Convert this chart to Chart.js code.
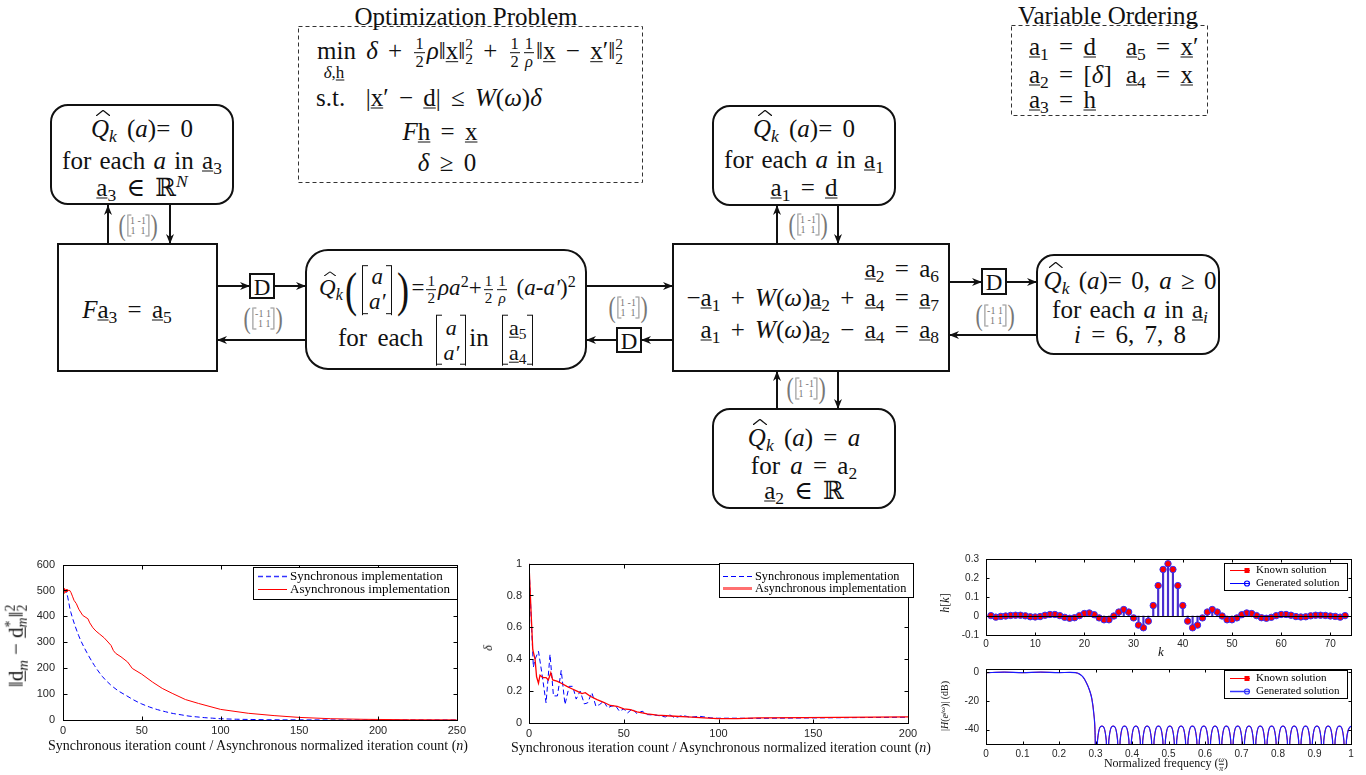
<!DOCTYPE html>
<html><head><meta charset="utf-8">
<script src="https://cdn.jsdelivr.net/npm/chart.js@4.4.1/dist/chart.umd.min.js"></script>
<style>
html,body{margin:0;padding:0;background:#fff;}
#page{position:relative;width:1366px;height:775px;overflow:hidden;background:#fff;}
#dg{position:absolute;left:0;top:0;}
canvas{position:absolute;}
.m{position:absolute;font-family:'Liberation Serif','DejaVu Serif',serif;font-size:25px;line-height:1;white-space:nowrap;color:#111;word-spacing:2px;}
.w{word-spacing:4px;}
.c{transform:translate(-50%,-50%);}
.l{transform:translate(0,-50%);}
.r{transform:translate(-100%,-50%);}
.rot{transform:translate(-50%,-50%) rotate(-90deg);}
.m i{font-style:italic;}
.u{text-decoration:underline;text-decoration-thickness:1.2px;text-underline-offset:2px;}
.m sub{font-size:0.7em;vertical-align:-0.3em;line-height:0;}
.m sup{font-size:0.7em;vertical-align:0.5em;line-height:0;}
.hat{position:relative;font-style:italic;}
.hat::before{content:'';position:absolute;left:0.2em;top:-0.2em;width:0.55em;height:0.22em;
 background:url("data:image/svg+xml;utf8,<svg xmlns='http://www.w3.org/2000/svg' viewBox='0 0 20 6' preserveAspectRatio='none'><path d='M0 6 L10 0.8 L20 6' fill='none' stroke='%23111' stroke-width='1.3'/></svg>") no-repeat;background-size:100% 100%;}
.fr{display:inline-block;vertical-align:middle;text-align:center;font-size:0.66em;line-height:1.05;margin:0 2px;}
.fr>span{display:block;padding:0 1px;}
.fr>span:first-child{border-bottom:1px solid #111;}
.ss{display:inline-block;vertical-align:-0.35em;font-size:0.62em;line-height:0.95;}
.ss>span{display:block;}
.vec{display:inline-flex;flex-direction:column;align-items:center;vertical-align:middle;line-height:1.08;padding:0 6px;margin:0 3px;
 border-left:1.3px solid #111;border-right:1.3px solid #111;
 background:linear-gradient(#111,#111) left top/5px 1.3px no-repeat,linear-gradient(#111,#111) right top/5px 1.3px no-repeat,linear-gradient(#111,#111) left bottom/5px 1.3px no-repeat,linear-gradient(#111,#111) right bottom/5px 1.3px no-repeat;}
.bp{display:inline-block;vertical-align:middle;font-size:2.1em;line-height:1;transform:scaleX(0.75);}
.mx{position:absolute;transform:translate(-50%,-50%);display:flex;align-items:center;color:#777;font-family:'Liberation Serif',serif;}
.mx .mp{font-size:29px;line-height:1;transform:scaleX(0.75);}
.mx .mb{display:inline-flex;flex-direction:column;font-size:10px;line-height:10px;padding:1px 2px;
 border-left:1px solid #888;border-right:1px solid #888;
 background:linear-gradient(#888,#888) left top/3px 1px no-repeat,linear-gradient(#888,#888) right top/3px 1px no-repeat,linear-gradient(#888,#888) left bottom/3px 1px no-repeat,linear-gradient(#888,#888) right bottom/3px 1px no-repeat;}
.mx .mb span{white-space:pre;text-align:center;}
.dl{position:absolute;font-family:'Liberation Serif',serif;font-size:23px;line-height:1;transform:translate(-50%,-50%);color:#111;}
.at{position:absolute;font-family:'Liberation Serif','DejaVu Serif',serif;white-space:nowrap;color:#111;line-height:1;}
.at i{font-style:italic;}
.at sub{font-size:0.7em;vertical-align:-0.3em;line-height:0;}
.at sup{font-size:0.7em;vertical-align:0.5em;line-height:0;}
</style></head>
<body><div id="page">
<svg id="dg" width="1366" height="775">
<defs><marker id="ah" viewBox="0 0 10 8" refX="10" refY="4" markerWidth="10" markerHeight="8" orient="auto" markerUnits="userSpaceOnUse"><path d="M0,0 L10,4 L0,8 L3,4 Z" fill="#111"/></marker></defs>
<g fill="none" stroke="#333" stroke-width="1" stroke-dasharray="4,3">
<rect x="298.5" y="26.5" width="344" height="156"/>
<rect x="1011.5" y="25.5" width="196" height="90"/>
</g>
<g fill="none" stroke="#111" stroke-width="2">
<rect x="51" y="105" width="182" height="99" rx="17"/>
<rect x="58" y="244" width="159" height="127"/>
<rect x="306" y="250" width="280" height="119" rx="22"/>
<rect x="713" y="106" width="182" height="99" rx="17"/>
<rect x="673" y="244" width="276" height="127"/>
<rect x="713" y="409" width="182" height="99" rx="17"/>
<rect x="1037" y="255" width="182" height="99" rx="17"/>
<rect x="250" y="274" width="24" height="24"/>
<rect x="617" y="328" width="24" height="24"/>
<rect x="982" y="269" width="24" height="25"/>
</g>
<g stroke="#111" stroke-width="2" marker-end="url(#ah)">
<line x1="108" y1="244" x2="108" y2="205"/>
<line x1="170" y1="205" x2="170" y2="244"/>
<line x1="217" y1="286" x2="250" y2="286"/>
<line x1="274" y1="286" x2="306" y2="286"/>
<line x1="306" y1="340" x2="217" y2="340"/>
<line x1="586" y1="286" x2="673" y2="286"/>
<line x1="673" y1="340" x2="641" y2="340"/>
<line x1="617" y1="340" x2="586" y2="340"/>
<line x1="777" y1="244" x2="777" y2="205"/>
<line x1="838" y1="205" x2="838" y2="244"/>
<line x1="777" y1="409" x2="777" y2="371"/>
<line x1="838" y1="371" x2="838" y2="409"/>
<line x1="949" y1="282" x2="982" y2="282"/>
<line x1="1006" y1="282" x2="1037" y2="282"/>
<line x1="1037" y1="335" x2="949" y2="335"/>
</g>
</svg>

<!-- Optimization problem -->
<div class="m c" style="left:466px;top:16px;word-spacing:0;">Optimization Problem</div>
<div class="m l w" style="left:317px;top:53px;">min <i>δ</i> + <span class="fr"><span>1</span><span>2</span></span><i>ρ</i>‖<span class="u">x</span>‖<span class="ss"><span>2</span><span>2</span></span> + <span class="fr"><span>1</span><span>2</span></span><span class="fr"><span>1</span><span><i>ρ</i></span></span>‖<span class="u">x</span> − <span class="u">x</span>′‖<span class="ss"><span>2</span><span>2</span></span></div>
<div class="m c" style="left:334px;top:72px;font-size:17px;word-spacing:0;"><i>δ</i>,<span class="u">h</span></div>
<div class="m l w" style="left:316px;top:97px;">s.t.&nbsp; |<span class="u">x</span>′ − <span class="u">d</span>| ≤ <i>W</i>(<i>ω</i>)<i>δ</i></div>
<div class="m c w" style="left:440px;top:131px;"><i>F</i><span class="u">h</span> = <span class="u">x</span></div>
<div class="m c w" style="left:447px;top:162px;"><i>δ</i> ≥ 0</div>

<!-- Variable ordering -->
<div class="m c" style="left:1108px;top:15px;word-spacing:0;">Variable Ordering</div>
<div class="m l w" style="left:1029px;top:46px;"><span class="u">a</span><sub>1</sub> = <span class="u">d</span></div>
<div class="m l w" style="left:1126px;top:46px;"><span class="u">a</span><sub>5</sub> = <span class="u">x</span>′</div>
<div class="m l w" style="left:1029px;top:74px;"><span class="u">a</span><sub>2</sub> = [<i>δ</i>]</div>
<div class="m l w" style="left:1126px;top:74px;"><span class="u">a</span><sub>4</sub> = <span class="u">x</span></div>
<div class="m l w" style="left:1029px;top:99px;"><span class="u">a</span><sub>3</sub> = <span class="u">h</span></div>

<!-- top-left box -->
<div class="m c w" style="left:142px;top:128px;"><span class="hat">Q</span><sub><i>k</i></sub> (<i>a</i>)= 0</div>
<div class="m c" style="left:142px;top:160px;">for each <i>a</i> in <span class="u">a</span><sub>3</sub></div>
<div class="m c w" style="left:142px;top:187px;"><span class="u">a</span><sub>3</sub> ∈ ℝ<sup><i>N</i></sup></div>
<!-- F box -->
<div class="m c w" style="left:127px;top:309px;"><i>F</i><span class="u">a</span><sub>3</sub> = <span class="u">a</span><sub>5</sub></div>
<!-- middle box -->
<div class="m l" style="left:319px;top:290px;font-size:23px;"><span class="hat">Q</span><sub><i>k</i></sub><span class="bp">(</span><span class="vec"><i>a</i><i>a′</i></span><span class="bp">)</span>=<span class="fr"><span>1</span><span>2</span></span><i>ρa</i><sup>2</sup>+<span class="fr"><span>1</span><span>2</span></span><span class="fr"><span>1</span><span><i>ρ</i></span></span> (<i>a</i>-<i>a′</i>)<sup>2</sup></div>
<div class="m l w" style="left:338px;top:340px;">for each <span class="vec" style="font-size:22px;line-height:1.15;"><i>a</i><i>a′</i></span>in <span class="vec" style="font-size:22px;line-height:1.15;"><span><span class="u">a</span><sub>5</sub></span><span><span class="u">a</span><sub>4</sub></span></span></div>
<!-- centre box -->
<div class="m r w" style="left:939px;top:268px;"><span class="u">a</span><sub>2</sub> = a<sub>6</sub></div>
<div class="m r w" style="left:939px;top:297px;">−<span class="u">a</span><sub>1</sub> + <i>W</i>(<i>ω</i>)<span class="u">a</span><sub>2</sub> + <span class="u">a</span><sub>4</sub> = <span class="u">a</span><sub>7</sub></div>
<div class="m r w" style="left:939px;top:329px;"><span class="u">a</span><sub>1</sub> + <i>W</i>(<i>ω</i>)<span class="u">a</span><sub>2</sub> − <span class="u">a</span><sub>4</sub> = <span class="u">a</span><sub>8</sub></div>
<!-- top centre box -->
<div class="m c w" style="left:804px;top:128px;"><span class="hat">Q</span><sub><i>k</i></sub> (<i>a</i>)= 0</div>
<div class="m c" style="left:804px;top:159px;">for each <i>a</i> in <span class="u">a</span><sub>1</sub></div>
<div class="m c w" style="left:804px;top:187px;"><span class="u">a</span><sub>1</sub> = <span class="u">d</span></div>
<!-- bottom box -->
<div class="m c w" style="left:804px;top:437px;"><span class="hat">Q</span><sub><i>k</i></sub> (<i>a</i>) = <i>a</i></div>
<div class="m c w" style="left:804px;top:465px;">for <i>a</i> = a<sub>2</sub></div>
<div class="m c w" style="left:804px;top:490px;"><span class="u">a</span><sub>2</sub> ∈ ℝ</div>
<!-- right box -->
<div class="m c" style="left:1130px;top:280px;word-spacing:3px;"><span class="hat">Q</span><sub><i>k</i></sub> (<i>a</i>)= 0, <i>a</i> ≥ 0</div>
<div class="m c" style="left:1130px;top:309px;">for each <i>a</i> in <span class="u">a</span><sub><i>i</i></sub></div>
<div class="m c w" style="left:1130px;top:334px;"><i>i</i> = 6, 7, 8</div>

<!-- D blocks -->
<div class="dl" style="left:262px;top:287px;">D</div>
<div class="dl" style="left:629px;top:341px;">D</div>
<div class="dl" style="left:994px;top:282px;">D</div>

<!-- matrix labels -->
<div class="mx" style="left:138px;top:225px;"><span class="mp">(</span><span class="mb"><span>1 -1</span><span>1  1</span></span><span class="mp">)</span></div>
<div class="mx" style="left:263px;top:318px;"><span class="mp">(</span><span class="mb"><span>-1 1</span><span> 1 1</span></span><span class="mp">)</span></div>
<div class="mx" style="left:628px;top:307px;"><span class="mp">(</span><span class="mb"><span>1 -1</span><span>1  1</span></span><span class="mp">)</span></div>
<div class="mx" style="left:808px;top:224px;"><span class="mp">(</span><span class="mb"><span>1 -1</span><span>1  1</span></span><span class="mp">)</span></div>
<div class="mx" style="left:806px;top:388px;"><span class="mp">(</span><span class="mb"><span>1 -1</span><span>1  1</span></span><span class="mp">)</span></div>
<div class="mx" style="left:995px;top:315px;"><span class="mp">(</span><span class="mb"><span>-1 1</span><span> 1 1</span></span><span class="mp">)</span></div>

<!-- charts -->
<canvas id="c1" width="470" height="225" style="left:0;top:550px;"></canvas>
<canvas id="c2" width="460" height="225" style="left:470px;top:550px;"></canvas>
<canvas id="c3" width="436" height="110" style="left:930px;top:545px;"></canvas>
<canvas id="c4" width="436" height="120" style="left:930px;top:655px;"></canvas>

<!-- axis titles -->
<div class="at c" style="left:258px;top:746px;font-size:14px;">Synchronous iteration count / Asynchronous normalized iteration count (<i>n</i>)</div>
<div class="at rot" style="left:17px;top:646px;font-size:21px;">‖<span class="u">d</span><sub><i>m</i></sub> − <span class="u">d</span><span style="display:inline-block;vertical-align:-0.3em;font-size:0.65em;line-height:0.9;"><span style="display:block">*</span><span style="display:block"><i>m</i></span></span>‖<span style="display:inline-block;vertical-align:-0.3em;font-size:0.65em;line-height:0.9;"><span style="display:block">2</span><span style="display:block">2</span></span></div>
<div class="at c" style="left:721px;top:748px;font-size:14px;">Synchronous iteration count / Asynchronous normalized iteration count (<i>n</i>)</div>
<div class="at rot" style="left:488px;top:648px;font-size:12px;"><i>δ</i></div>
<div class="at c" style="left:1161px;top:651px;font-size:13px;"><i>k</i></div>
<div class="at rot" style="left:945px;top:603px;font-size:12px;"><i>h</i>[<i>k</i>]</div>
<div class="at rot" style="left:945px;top:706px;font-size:10px;">|<i>H</i>(<i>e</i><sup><i>jω</i></sup>)| (dB)</div>
<div class="at c" style="left:1166px;top:764px;font-size:12px;">Normalized frequency (<span style="display:inline-block;vertical-align:middle;text-align:center;font-size:0.65em;line-height:1;"><span style="display:block;border-bottom:1px solid #111;"><i>ω</i></span><span style="display:block"><i>π</i></span></span>)</div>
</div>

<script>
// ---------------- DATA ----------------
// Chart 1: ||d_m - d*_m||^2 vs iteration
const c1SyncX  = [0,1.5,5,10,15,20,25,30,35,40,45,50,55,60,65,70,75,80,85,90,95,100,110,120,130,150,200,250];
const c1SyncY  = [500,500,415,325,262,210,168,137,113,95,77,62,50,40,32,25,20,15,12,9,7,5,3,2,1,0.5,0,0];
const c1AsyncX = [0,0.5,1,1.5,2,2.5,3,3.5,4,5,6,7,8.5,10,12.5,14,15.8,17,19,21,23,26,28,30.5,32,33.5,36.8,41,44,50,56.7,63,69.3,77.7,86,100,117.6,134,150,170,191,220,250];
const c1AsyncY = [500,488,508,492,505,495,503,498,502,493,478,462,449,428,404,398,391,375,356,343,333,318,305,288,268,257,244,224,199,177,147,122,103,79,64,41,26,17,10,5,2.6,1,0.5];
// Chart 2: delta vs iteration
const c2SyncX  = [0,1,2.3,3.2,5,6.7,9,11.1,12.9,15,17,19,21.2,23.1,24.9,27,29.2,30.9,33.2,35.3,37.3,39.4,41.5,43.3,45.6,47.7,50,52,54.4,57,59.7,62.4,67.7,72,74,77,81,85,90,96,99.5,110,120,150,200];
const c2SyncY  = [1,0.7,0.35,0.40,0.45,0.32,0.126,0.43,0.17,0.17,0.33,0.116,0.23,0.23,0.15,0.2,0.12,0.126,0.19,0.105,0.116,0.137,0.095,0.105,0.11,0.074,0.088,0.063,0.088,0.059,0.074,0.053,0.048,0.038,0.053,0.032,0.048,0.036,0.042,0.032,0.03,0.03,0.029,0.032,0.036];
const c2AsyncX = [0,1,2,3.2,4,5,5.8,6.7,7.6,9,10.2,11.5,12.5,14.7,17.3,20,22.6,25.3,27.9,29.7,32.3,35.9,39.4,42.9,46.5,50,53.5,57,62.4,67.7,74.7,83.6,92.4,99.5,110,120.7,145,200];
const c2AsyncY = [1,0.72,0.46,0.40,0.29,0.25,0.30,0.29,0.285,0.285,0.27,0.315,0.27,0.263,0.248,0.23,0.215,0.2,0.185,0.19,0.168,0.147,0.13,0.11,0.105,0.088,0.084,0.07,0.057,0.05,0.044,0.038,0.032,0.027,0.027,0.032,0.034,0.038];
// Chart 3: filter taps h[k], k = 1..73
const c3K = [1,2,3,4,5,6,7,8,9,10,11,12,13,14,15,16,17,18,19,20,21,22,23,24,25,26,27,28,29,30,31,32,33,34,35,36,37,38,39,40,41,42,43,44,45,46,47,48,49,50,51,52,53,54,55,56,57,58,59,60,61,62,63,64,65,66,67,68,69,70,71,72,73];
const c3H = [0.002,-0.006,-0.002,0,0.003,0.004,0.004,0.001,-0.004,-0.005,
  -0.003,0.004,0.008,0.008,0.002,-0.007,-0.012,-0.009,0.002,0.013,
  0.016,0.007,-0.01,-0.02,-0.02,0,0.021,0.034,0.021,-0.01,
  -0.048,-0.062,-0.027,0.055,0.16,0.245,0.275,
  0.245,0.16,0.055,-0.027,-0.062,-0.048,-0.01,
  0.021,0.034,0.021,0,-0.02,-0.02,-0.01,0.007,0.016,0.013,
  0.002,-0.009,-0.012,-0.007,0.002,0.008,0.008,0.004,-0.003,-0.005,
  -0.004,0.001,0.004,0.004,0.003,0,-0.002,-0.006,0.002];
// Chart 4: magnitude response [normalized frequency, dB]
const c4Resp = [
 [0,-0.2],[0.05,0.2],[0.1,-0.2],[0.15,0.2],[0.2,-0.1],[0.23,0],[0.245,-0.1],[0.25,-0.4],[0.255,-1],[0.26,-1.8],[0.265,-3],
 [0.27,-4.8],[0.275,-7.2],[0.28,-10],[0.285,-13.5],[0.29,-18.5],[0.295,-28],[0.299,-44],[0.302,-90],
 [0.3055,-47.5],[0.3175,-37.5],[0.3295,-47.5],[0.333,-90],
 [0.3365,-47.5],[0.3485,-37.5],[0.3605,-47.5],[0.364,-90],
 [0.3675,-47.5],[0.3795,-37.5],[0.3915,-47.5],[0.395,-90],
 [0.3985,-47.5],[0.4105,-37.5],[0.4225,-47.5],[0.426,-90],
 [0.4295,-47.5],[0.4415,-37.5],[0.4535,-47.5],[0.457,-90],
 [0.4605,-47.5],[0.4725,-37.5],[0.4845,-47.5],[0.488,-90],
 [0.4915,-47.5],[0.5035,-37.5],[0.5155,-47.5],[0.519,-90],
 [0.5225,-47.5],[0.5345,-37.5],[0.5465,-47.5],[0.550,-90],
 [0.5535,-47.5],[0.5655,-37.5],[0.5775,-47.5],[0.581,-90],
 [0.5845,-47.5],[0.5965,-37.5],[0.6085,-47.5],[0.612,-90],
 [0.6155,-47.5],[0.6275,-37.5],[0.6395,-47.5],[0.643,-90],
 [0.6465,-47.5],[0.6585,-37.5],[0.6705,-47.5],[0.674,-90],
 [0.6775,-47.5],[0.6895,-37.5],[0.7015,-47.5],[0.705,-90],
 [0.7085,-47.5],[0.7205,-37.5],[0.7325,-47.5],[0.736,-90],
 [0.7395,-47.5],[0.7515,-37.5],[0.7635,-47.5],[0.767,-90],
 [0.7705,-47.5],[0.7825,-37.5],[0.7945,-47.5],[0.798,-90],
 [0.8015,-47.5],[0.8135,-37.5],[0.8255,-47.5],[0.829,-90],
 [0.8325,-47.5],[0.8445,-37.5],[0.8565,-47.5],[0.860,-90],
 [0.8635,-47.5],[0.8755,-37.5],[0.8875,-47.5],[0.891,-90],
 [0.8945,-47.5],[0.9065,-37.5],[0.9185,-47.5],[0.922,-90],
 [0.9255,-47.5],[0.9375,-37.5],[0.9495,-47.5],[0.953,-90],
 [0.9565,-47.5],[0.9685,-37.5],[0.9805,-47.5],[0.984,-90],
 [0.9875,-47.5],[1.0,-37.5]
];
const seriesLabels = ['Synchronous implementation','Asynchronous implementation'];
const filterLabels = ['Known solution','Generated solution'];

// ---------------- HELPERS ----------------
const xy = (xs, ys) => xs.map((x, i) => ({x: x, y: ys[i]}));
const TICKC = '#262626';
const fmt = v => String(Math.round(v * 1000) / 1000);

const mbox = {
  id: 'mbox',
  afterDatasetsDraw(chart, args, o) {
    const {ctx, chartArea: a, scales: {x, y}} = chart;
    ctx.save();
    ctx.strokeStyle = '#000'; ctx.lineWidth = 1;
    if (o.zeroLine) {
      const py = Math.round(y.getPixelForValue(0)) + 0.5;
      ctx.beginPath(); ctx.moveTo(a.left, py); ctx.lineTo(a.right, py); ctx.stroke();
    }
    const L = Math.round(a.left) + 0.5, T = Math.round(a.top) + 0.5, R = Math.round(a.right) + 0.5, B = Math.round(a.bottom) + 0.5;
    ctx.strokeRect(L, T, R - L, B - T);
    const tl = o.tick || 4;
    ctx.beginPath();
    x.ticks.forEach(t => { const p = Math.round(x.getPixelForValue(t.value)) + 0.5; ctx.moveTo(p, B); ctx.lineTo(p, B - tl); ctx.moveTo(p, T); ctx.lineTo(p, T + tl); });
    y.ticks.forEach(t => { const p = Math.round(y.getPixelForValue(t.value)) + 0.5; ctx.moveTo(L, p); ctx.lineTo(L + tl, p); ctx.moveTo(R, p); ctx.lineTo(R - tl, p); });
    ctx.stroke();
    ctx.restore();
  },
  afterDraw(chart, args, o) {
    const lg = o.legend; if (!lg) return;
    const ctx = chart.ctx;
    const [bx, by, bw, bh] = lg.box;
    ctx.save();
    ctx.fillStyle = '#fff'; ctx.fillRect(bx, by, bw, bh);
    ctx.strokeStyle = '#000'; ctx.lineWidth = 1; ctx.strokeRect(bx + 0.5, by + 0.5, bw, bh);
    const items = chart.data.datasets.filter(d => !d.noLegend);
    items.forEach((d, i) => {
      const yy = lg.rows[i] + 0.5;
      ctx.strokeStyle = d.legendColor || d.borderColor;
      ctx.lineWidth = d.legendWidth || d.borderWidth || 1;
      ctx.setLineDash(d.borderDash || []);
      ctx.beginPath(); ctx.moveTo(lg.line[0], yy); ctx.lineTo(lg.line[1], yy); ctx.stroke();
      ctx.setLineDash([]);
      if (d.legendMarker === 'square') {
        ctx.fillStyle = d.legendColor; ctx.fillRect(lg.marker - 2.5, yy - 2.5, 5, 5);
      } else if (d.legendMarker === 'circle') {
        ctx.lineWidth = 1.2; ctx.beginPath(); ctx.arc(lg.marker, yy, 2.5, 0, Math.PI * 2); ctx.stroke();
      }
      ctx.fillStyle = '#000'; ctx.font = lg.font; ctx.textBaseline = 'middle'; ctx.textAlign = 'left';
      ctx.fillText(d.label, lg.textX, yy);
    });
    ctx.restore();
  }
};

function scales(o) {
  return {
    x: {type: 'linear', min: o.xmin, max: o.xmax, offset: false,
        grid: {display: false, drawTicks: false}, border: {display: false},
        ticks: {stepSize: o.xstep, autoSkip: false, maxRotation: 0, includeBounds: false, padding: o.xpad, color: TICKC,
                font: {family: 'Liberation Sans', size: o.fs}, callback: fmt},
        afterFit: s => { s.height = o.xH; }},
    y: {type: 'linear', min: o.ymin, max: o.ymax,
        grid: {display: false, drawTicks: false}, border: {display: false},
        ticks: {stepSize: o.ystep, autoSkip: false, includeBounds: false, padding: o.ypad, color: TICKC,
                font: {family: 'Liberation Sans', size: o.fs}, callback: fmt},
        afterFit: s => { s.width = o.yW; }}
  };
}
function baseOpts(o, extra) {
  return {
    responsive: false, animation: false, events: [],
    layout: {padding: {top: o.padT, right: o.padR, left: 0, bottom: 0}},
    plugins: {legend: {display: false}, tooltip: {enabled: false}, mbox: extra},
    scales: scales(o)
  };
}

// ---------------- CHART 1 ----------------
new Chart(document.getElementById('c1'), {
  type: 'line',
  data: {datasets: [
    {label: seriesLabels[0], data: xy(c1SyncX, c1SyncY), borderColor: '#0000ff', borderWidth: 1, borderDash: [5, 3],
     pointRadius: 0, cubicInterpolationMode: 'monotone', order: 1, legendColor: '#3333ff', legendWidth: 1.3},
    {label: seriesLabels[1], data: xy(c1AsyncX, c1AsyncY), borderColor: '#ff0000', borderWidth: 1,
     pointRadius: 0, tension: 0, order: 0}
  ]},
  options: baseOpts({xmin: 0, xmax: 250, xstep: 50, ymin: 0, ymax: 600, ystep: 100, fs: 11, xpad: 4, ypad: 8,
                     padT: 14, padR: 9, yW: 63, xH: 55},
    {legend: {box: [253, 17, 204, 32], rows: [26, 39], line: [258, 287], textX: 290, font: '13px "Liberation Serif"'}}),
  plugins: [mbox]
});

// ---------------- CHART 2 ----------------
new Chart(document.getElementById('c2'), {
  type: 'line',
  data: {datasets: [
    {label: seriesLabels[0], data: xy(c2SyncX, c2SyncY), borderColor: '#0000ff', borderWidth: 1, borderDash: [5, 3],
     pointRadius: 0, tension: 0, order: 1},
    {label: seriesLabels[1], data: xy(c2AsyncX, c2AsyncY), borderColor: '#ff0000', borderWidth: 1.3,
     pointRadius: 0, tension: 0, order: 0, legendColor: '#ff7070', legendWidth: 3}
  ]},
  options: baseOpts({xmin: 0, xmax: 200, xstep: 50, ymin: 0, ymax: 1, ystep: 0.2, fs: 11, xpad: 4, ypad: 7,
                     padT: 13, padR: 22, yW: 59, xH: 52},
    {legend: {box: [249, 13, 194, 34], rows: [26, 38], line: [253, 282], textX: 285, font: '12.3px "Liberation Serif"'}}),
  plugins: [mbox]
});

// ---------------- CHART 3 ----------------
new Chart(document.getElementById('c3'), {
  type: 'line',
  data: {datasets: [
    {label: filterLabels[0], data: xy(c3K, c3H), showLine: false, borderColor: '#ff0000',
     pointRadius: 3.2, pointBackgroundColor: '#ff0000', pointBorderColor: '#ff0000', pointBorderWidth: 0,
     order: 1, legendColor: '#ff0000', legendMarker: 'square', legendWidth: 1},
    {label: filterLabels[1], data: xy(c3K, c3H), showLine: false, borderColor: '#0000ff',
     pointRadius: 3.2, pointBackgroundColor: 'rgba(0,0,0,0)', pointBorderColor: '#3030ff', pointBorderWidth: 1,
     order: 0, legendColor: '#0000ff', legendMarker: 'circle', legendWidth: 1},
    {type: 'bar', label: 'stems', data: xy(c3K, c3H), backgroundColor: '#4a2fd0', barThickness: 1.5,
     grouped: false, noLegend: true, order: 2}
  ]},
  options: baseOpts({xmin: 0, xmax: 74.2, xstep: 10, ymin: -0.1, ymax: 0.3, ystep: 0.1, fs: 10, xpad: 3, ypad: 7,
                     padT: 14, padR: 15, yW: 56, xH: 20},
    {zeroLine: true, tick: 3,
     legend: {box: [294, 18, 123, 27], rows: [25, 38], line: [300, 320], marker: 317, textX: 326, font: '11px "Liberation Serif"'}}),
  plugins: [mbox]
});

// ---------------- CHART 4 ----------------
const c4Pts = c4Resp.map(p => ({x: p[0], y: p[1]}));
new Chart(document.getElementById('c4'), {
  type: 'line',
  data: {datasets: [
    {label: filterLabels[0], data: c4Pts, borderColor: '#ff0000', borderWidth: 1, pointRadius: 0,
     cubicInterpolationMode: 'monotone', order: 1, legendColor: '#ff0000', legendMarker: 'square'},
    {label: filterLabels[1], data: c4Pts, borderColor: '#1a1aff', borderWidth: 1.2, pointRadius: 0,
     cubicInterpolationMode: 'monotone', order: 0, legendColor: '#3333ff', legendMarker: 'circle', legendWidth: 1.5}
  ]},
  options: baseOpts({xmin: 0, xmax: 1, xstep: 0.1, ymin: -50, ymax: 2.4, ystep: 20, fs: 10, xpad: 4, ypad: 7,
                     padT: 14, padR: 15, yW: 56, xH: 31},
    {tick: 3,
     legend: {box: [294, 15, 123, 28], rows: [23, 36], line: [300, 320], marker: 317, textX: 326, font: '11px "Liberation Serif"'}}),
  plugins: [mbox]
});
</script>
</body></html>
